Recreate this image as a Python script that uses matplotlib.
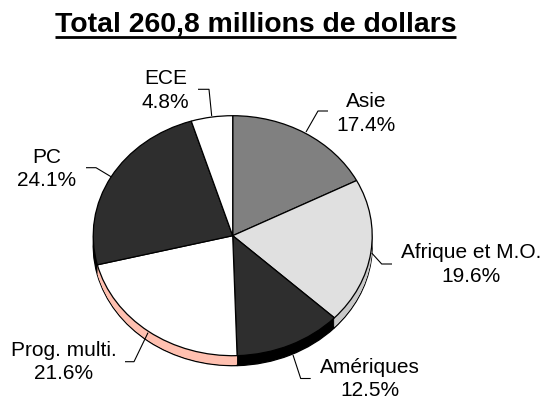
import matplotlib
matplotlib.use("Agg")
import matplotlib.pyplot as plt

plt.rcParams['font.family'] = ['Liberation Sans', 'DejaVu Sans']

W, H = 543, 400
categories = ["Asie", "Afrique et M.O.", "Amériques", "Prog. multi.", "PC", "ECE"]
values = [17.4, 19.6, 12.5, 21.6, 24.1, 4.8]
top_colors = ["#808080", "#e0e0e0", "#2e2e2e", "#ffffff", "#2e2e2e", "#ffffff"]
side_colors = ["#606060", "#c8c8c8", "#000000", "#ffc0b0", "#000000", "#cccccc"]
title = "Total 260,8 millions de dollars"

CX, CY, RX, RY, DEPTH = 232.7, 235.7, 139.5, 120.0, 10

fig = plt.figure(figsize=(W / 100, H / 100), dpi=100, facecolor="white")
ax = fig.add_axes([0, 0, 1, 1])

def draw(center, colors, edge, lw, z):
    wedges, _ = ax.pie(values, colors=colors, startangle=90, counterclock=False,
                       radius=1.0, center=center,
                       wedgeprops=dict(edgecolor=edge, linewidth=lw))
    for w in wedges:
        w.set_zorder(z)
    return wedges

# pie in unit-circle data space; axes limits squash it to the reference ellipse
dy = DEPTH / RY
draw((0, -dy), side_colors, "black", 0.9, 1)
for k in range(DEPTH - 1, 0, -1):
    draw((0, -dy * k / DEPTH), side_colors, "none", 0, 2 + (DEPTH - k))
draw((0, 0), top_colors, "black", 0.9, 20)

ax.set_aspect("auto")
ax.set_frame_on(False)
ax.set_xticks([]); ax.set_yticks([])
ax.set_xlim(-CX / RX, (W - CX) / RX)
ax.set_ylim(-(H - CY) / RY, CY / RY)

def px(x, y):
    return (x - CX) / RX, (CY - y) / RY

fs = 15
labels = [
    (categories[0], values[0], 366, 113.5, [(306, 132), (318, 111), (328, 111)]),
    (categories[1], values[1], 471, 264.5, [(371.7, 253), (381.7, 264), (392, 264)]),
    (categories[2], values[2], 370, 379, [(293, 355), (300.7, 378.5), (310.7, 378.5)]),
    (categories[3], values[3], 64, 362, [(148, 332.7), (134, 361.7), (125, 361.7)]),
    (categories[4], values[4], 47, 169, [(111, 176.7), (96, 167.7), (86, 167.7)]),
    (categories[5], values[5], 165.5, 90.5, [(211.7, 116), (209, 89.3), (198, 89.3)]),
]
for name, val, x, y, pts in labels:
    ax.text(*px(x, y), f"{name}\n{val}%", ha="center", va="center", fontsize=fs,
            color="black", linespacing=1.3, zorder=30)
    xs, ys = zip(*[px(a, b) for a, b in pts])
    ax.plot(xs, ys, color="black", lw=0.8, zorder=25, solid_capstyle="butt")

ax.text(*px(255.5, 24), title, ha="center", va="center", fontsize=20.4,
        fontweight="bold", color="black", zorder=30)
xs, ys = zip(*[px(54.5, 36.5), px(456, 36.5)])
ax.plot(xs, ys, color="black", lw=2, zorder=30, solid_capstyle="butt")

fig.savefig("out.png", dpi=100, facecolor="white")
